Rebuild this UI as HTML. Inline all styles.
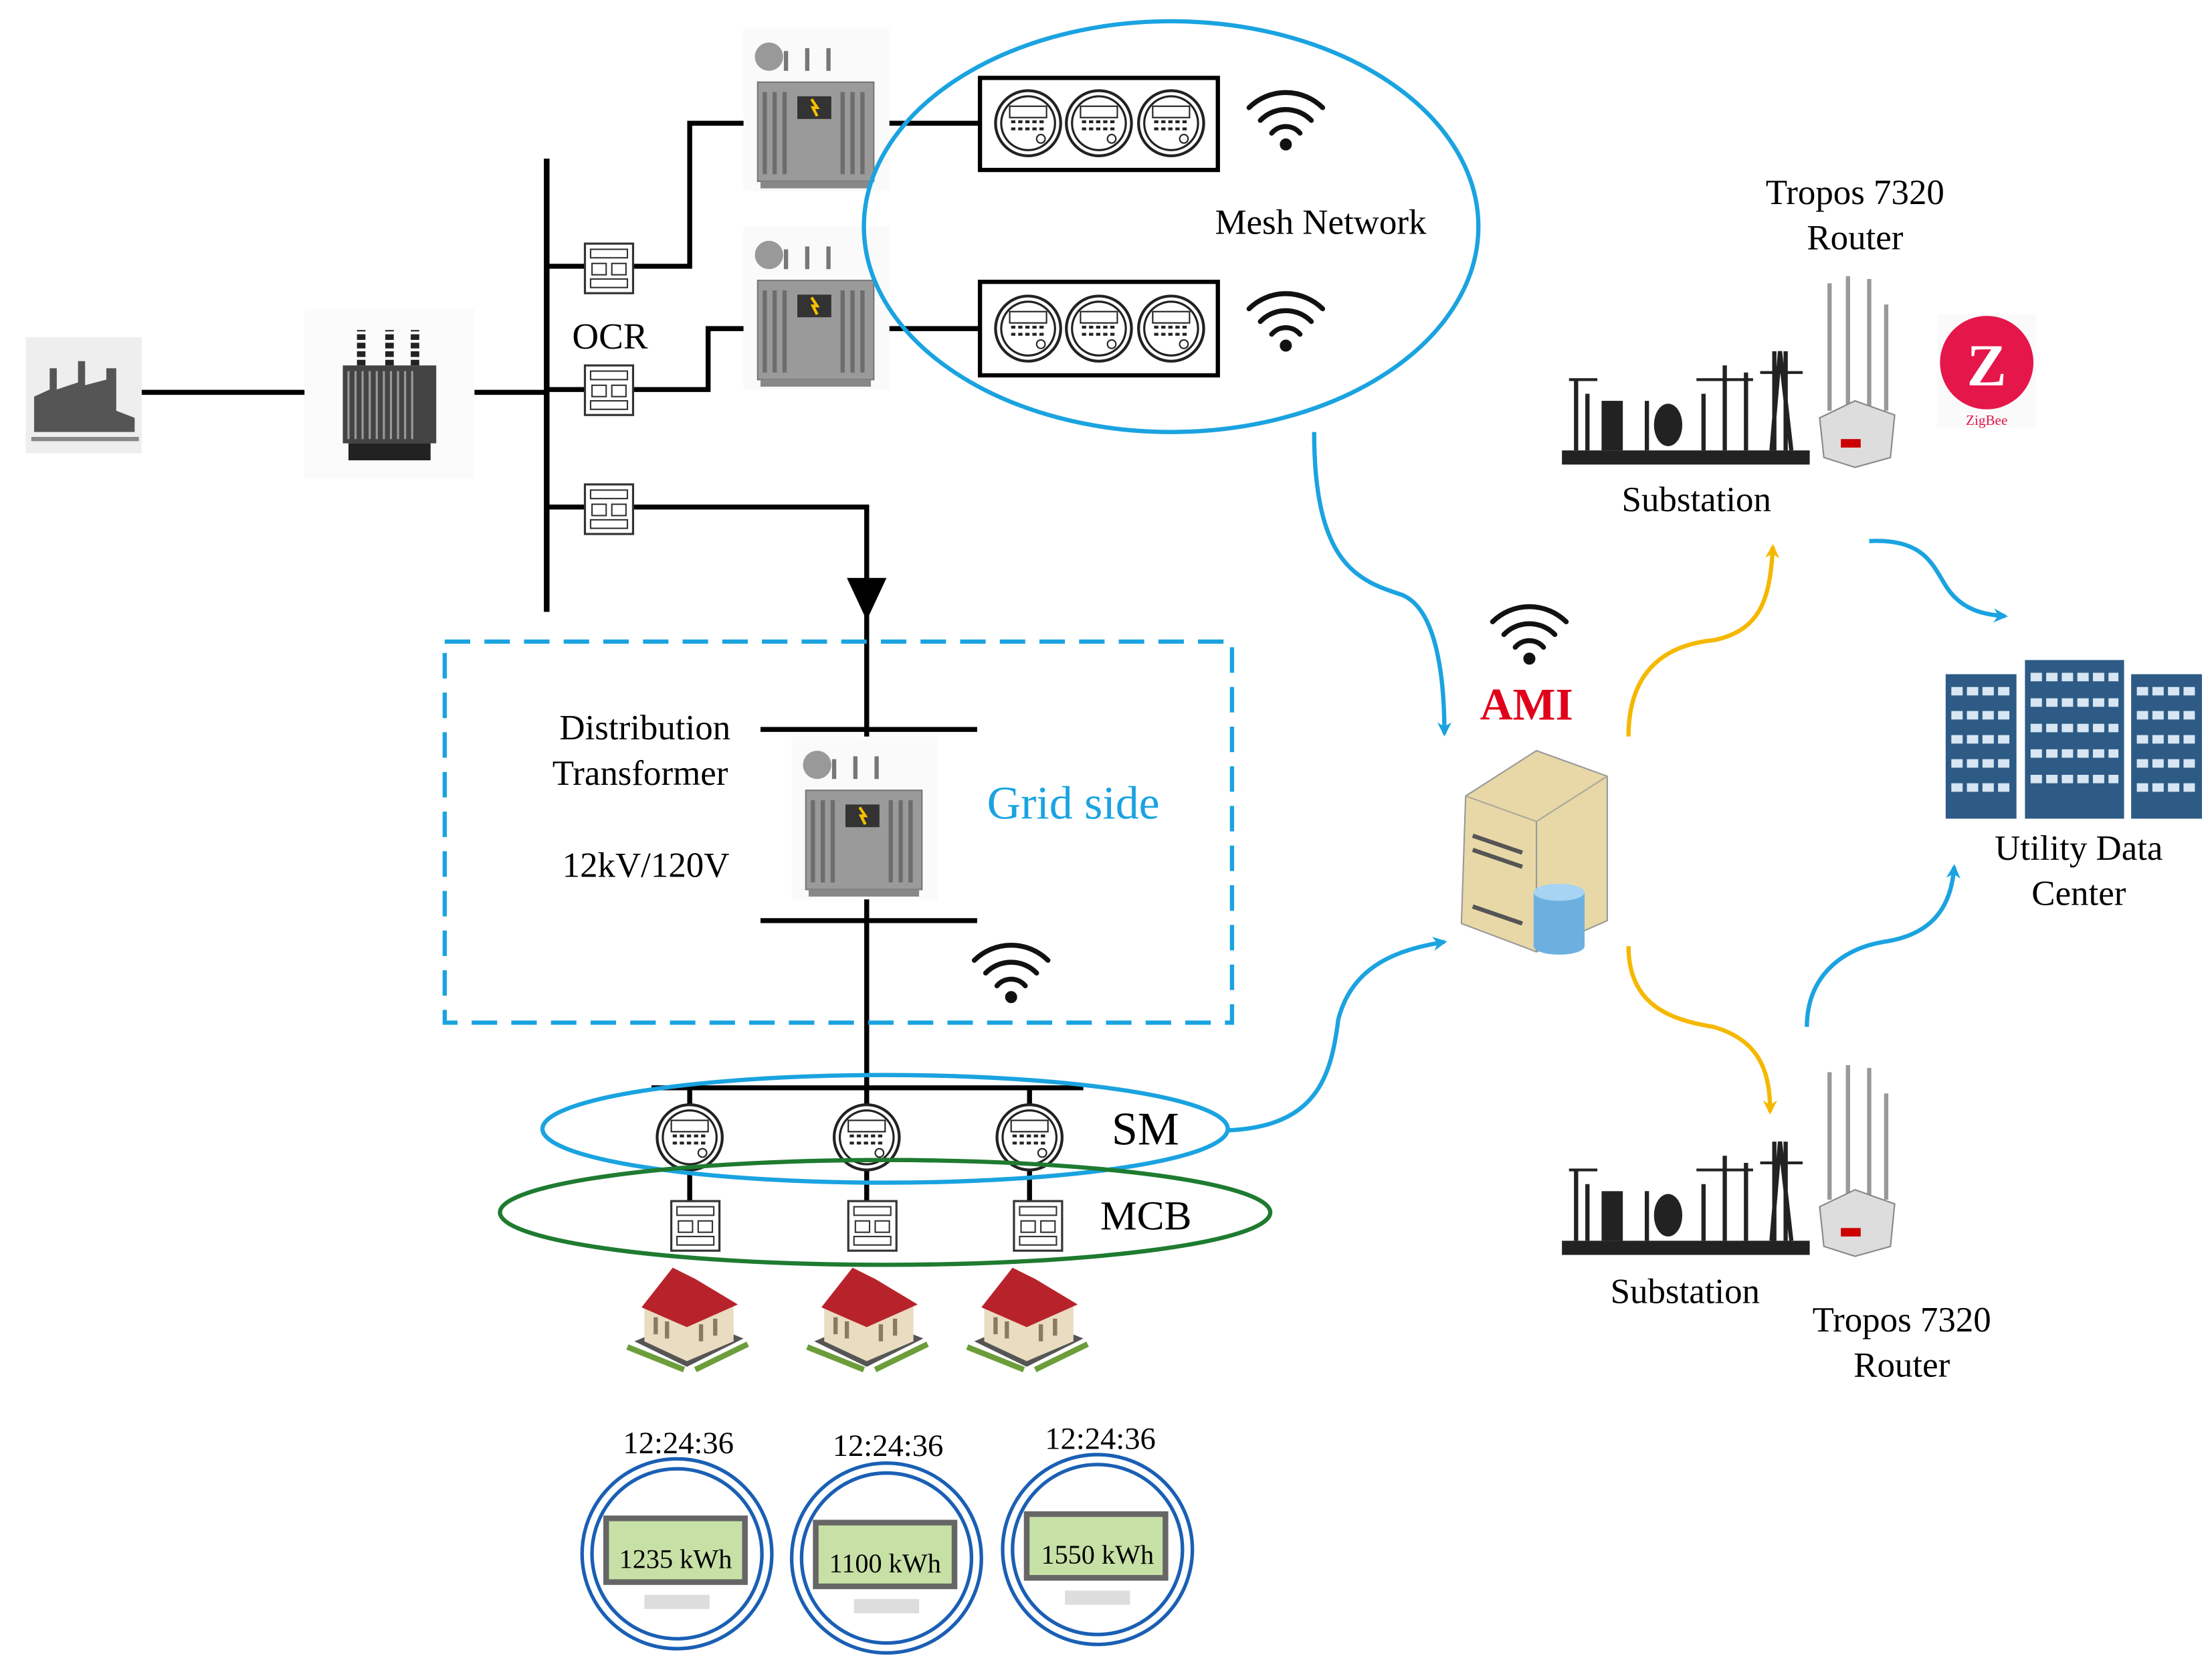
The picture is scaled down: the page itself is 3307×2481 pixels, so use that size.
<!DOCTYPE html>
<html><head><meta charset="utf-8"><style>
html,body{margin:0;padding:0;background:#fff;}
svg{display:block;}
text{font-family:"Liberation Serif",serif;}
</style></head><body>
<svg width="3307" height="2481" viewBox="0 0 1562 1172" xmlns="http://www.w3.org/2000/svg">
<defs>
<marker id="ab" markerWidth="10" markerHeight="10" refX="8" refY="5" orient="auto" markerUnits="userSpaceOnUse"><path d="M0,0 L10,5 L0,10 L3,5 z" fill="#1aa3e0"/></marker>
<marker id="ay" markerWidth="10" markerHeight="10" refX="8" refY="5" orient="auto" markerUnits="userSpaceOnUse"><path d="M0,0 L10,5 L0,10 L3,5 z" fill="#f5b800"/></marker>
<g id="ocr"><rect x="0" y="0" width="34" height="35" fill="#fff" stroke="#333" stroke-width="1.5"/><rect x="4" y="4" width="26" height="6" fill="none" stroke="#333"/><rect x="5" y="14" width="10" height="8" fill="none" stroke="#333"/><rect x="19" y="14" width="10" height="8" fill="none" stroke="#333"/><rect x="4" y="25" width="26" height="6" fill="none" stroke="#333"/></g>
<g id="tr"><rect x="0" y="0" width="103" height="115" fill="#fafafa"/><circle cx="18" cy="20" r="10" fill="#999"/><rect x="10" y="38" width="82" height="70" fill="#9a9a9a" stroke="#777"/><path d="M15 45v58M22 45v58M29 45v58M70 45v58M77 45v58M84 45v58" stroke="#6d6d6d" stroke-width="3"/><rect x="38" y="48" width="24" height="16" fill="#333"/><path d="M48 50l4 6h-3l3 6" stroke="#f5c000" stroke-width="2" fill="none"/><path d="M30 30v-14M45 30v-16M60 30v-16" stroke="#777" stroke-width="3"/><rect x="12" y="108" width="78" height="5" fill="#888"/></g>
<g id="met"><circle r="23" fill="#fff" stroke="#222" stroke-width="2"/><circle r="19" fill="none" stroke="#222" stroke-width="1.5"/><rect x="-13" y="-12" width="26" height="8" fill="none" stroke="#222"/><path d="M-12 -1h24M-12 4h24" stroke="#222" stroke-width="2" stroke-dasharray="3 2"/><circle cx="9" cy="11" r="3" fill="none" stroke="#222"/></g>
<g id="wifi" fill="none" stroke="#111" stroke-width="3.5" stroke-linecap="round"><path d="M-26 -14 A37 37 0 0 1 26 -14"/><path d="M-18 -5 A25 25 0 0 1 18 -5"/><path d="M-10 4 A13 13 0 0 1 10 4"/><circle cx="0" cy="12" r="2.5" fill="#111"/></g>
<g id="house"><path d="M5 62 L42 80 L82 60 L45 45 z" fill="#555"/><path d="M12 38 L42 50 L75 36 L75 62 L42 76 L12 62 z" fill="#e9dcc0"/><path d="M10 38 L32 10 L48 18 L78 36 L42 52 z" fill="#b8232b"/><path d="M20 45v12M28 48v12M52 50v12M62 46v12" stroke="#8a7a60" stroke-width="3"/><path d="M0 66 L40 82 M85 64 L48 82" stroke="#6b9e3a" stroke-width="4"/></g>
<g id="sub"><rect width="175" height="92" fill="#fff"/><rect x="0" y="80" width="175" height="10" fill="#222"/><rect x="28" y="45" width="15" height="35" fill="#222"/><path d="M10 80V30M18 80V40M60 80V45M100 80V40M115 80V20M130 80V25M150 80V10M158 80V10M148 80L154 10L162 80" stroke="#222" stroke-width="3" fill="none"/><ellipse cx="75" cy="62" rx="10" ry="15" fill="#222"/><path d="M95 30h40M140 25h30M5 30h20" stroke="#222" stroke-width="2"/></g>
<g id="rtr"><rect width="60" height="135" fill="#fff"/><path d="M12 95V5M25 95V0M40 95V2M52 95V20" stroke="#999" stroke-width="3"/><path d="M5 100 L30 88 L58 98 L55 128 L30 135 L8 128 z" fill="#ddd" stroke="#888"/><rect x="20" y="115" width="14" height="6" fill="#c00"/></g>
</defs>

<rect x="18" y="238" width="82" height="82" fill="#eee"/>
<path d="M24 305 L24 280 L35 275 L35 260 L40 260 L40 275 L55 270 L55 255 L60 255 L60 272 L75 268 L75 260 L82 260 L82 290 L95 295 L95 305 z" fill="#555"/>
<path d="M22 310 L98 310" stroke="#888" stroke-width="3"/>
<line x1="100" y1="277" x2="215" y2="277" stroke="#000" stroke-width="3.5"/>
<rect x="215" y="218" width="120" height="120" fill="#fbfbfb"/>
<rect x="242" y="258" width="66" height="55" fill="#444"/>
<path d="M246 262v48M251 262v48M256 262v48M261 262v48M266 262v48M271 262v48M276 262v48M281 262v48M286 262v48M291 262v48" stroke="#999" stroke-width="1.5"/>
<path d="M255 258v-25M275 258v-25M293 258v-25" stroke="#222" stroke-width="6" stroke-dasharray="4 2"/>
<rect x="246" y="313" width="58" height="12" fill="#222"/>
<line x1="335" y1="277" x2="386" y2="277" stroke="#000" stroke-width="3.5"/>
<line x1="386" y1="112" x2="386" y2="432" stroke="#000" stroke-width="4"/>
<g stroke="#000" stroke-width="3.5" fill="none">
<path d="M386 188H413M447 188H487V87H527"/>
<path d="M386 275H413M447 275H500V232H527"/>
<path d="M386 358H413M447 358H612V415"/>
<path d="M628 87H692M628 232H692"/>
<path d="M612 432V768M537 515H690M537 650H690"/>
<path d="M460 768H765M487 768V780M612 768V780M727 768V780M487 826V848M612 826V848M727 826V848"/>
</g>
<path d="M598 408 L626 408 L612 438 z" fill="#000"/>
<use href="#ocr" x="413" y="172"/><use href="#ocr" x="413" y="258"/><use href="#ocr" x="413" y="342"/>
<text x="404" y="246" font-size="26">OCR</text>
<use href="#tr" x="525" y="20"/><use href="#tr" x="525" y="160"/>
<rect x="692" y="55" width="168" height="65" fill="#fff" stroke="#000" stroke-width="3"/>
<rect x="692" y="199" width="168" height="66" fill="#fff" stroke="#000" stroke-width="3"/>
<use href="#met" x="726" y="87"/><use href="#met" x="776" y="87"/><use href="#met" x="827" y="87"/>
<use href="#met" x="726" y="232"/><use href="#met" x="776" y="232"/><use href="#met" x="827" y="232"/>
<use href="#wifi" x="908" y="90"/><use href="#wifi" x="908" y="232"/>
<ellipse cx="827" cy="160" rx="217" ry="145" fill="none" stroke="#1aa3e0" stroke-width="3"/>
<text x="858" y="165" font-size="25">Mesh Network</text>
<rect x="314" y="453" width="556" height="269" fill="none" stroke="#1aa3e0" stroke-width="3" stroke-dasharray="18 10"/>
<use href="#tr" x="559" y="520"/>
<text x="395" y="522" font-size="25">Distribution</text>
<text x="390" y="554" font-size="25">Transformer</text>
<text x="397" y="619" font-size="25">12kV/120V</text>
<text x="697" y="578" font-size="33" fill="#1aa3e0">Grid side</text>
<use href="#wifi" x="714" y="692"/>
<use href="#met" x="487" y="803"/><use href="#met" x="612" y="803"/><use href="#met" x="727" y="803"/>
<use href="#ocr" x="474" y="848"/><use href="#ocr" x="599" y="848"/><use href="#ocr" x="716" y="848"/>
<use href="#house" x="443" y="885"/><use href="#house" x="570" y="885"/><use href="#house" x="683" y="885"/>
<ellipse cx="625" cy="797" rx="242" ry="38" fill="none" stroke="#1aa3e0" stroke-width="3"/>
<ellipse cx="625" cy="856" rx="272" ry="37" fill="none" stroke="#1e7b30" stroke-width="3"/>
<text x="785" y="808" font-size="33">SM</text>
<text x="777" y="868" font-size="29">MCB</text>
<g font-size="22">
<text x="479" y="1026" text-anchor="middle">12:24:36</text>
<text x="627" y="1028" text-anchor="middle">12:24:36</text>
<text x="777" y="1023" text-anchor="middle">12:24:36</text>
</g>
<g id="bm">
<circle cx="478" cy="1097" r="67" fill="#fff" stroke="#1a5fb4" stroke-width="2.5"/><circle cx="478" cy="1097" r="60" fill="none" stroke="#1a5fb4" stroke-width="2.5"/>
<rect x="428" y="1072" width="98" height="45" fill="#c7e0a6" stroke="#666" stroke-width="4"/>
<rect x="455" y="1126" width="46" height="10" fill="#ddd"/>
</g>
<use href="#bm" x="148" y="3"/><use href="#bm" x="297" y="-3"/>
<g font-size="19">
<text x="477" y="1107" text-anchor="middle">1235 kWh</text>
<text x="625" y="1110" text-anchor="middle">1100 kWh</text>
<text x="775" y="1104" text-anchor="middle">1550 kWh</text>
</g>
<use href="#wifi" x="1080" y="453"/>
<text x="1078" y="508" font-size="32" fill="#e0001a" font-weight="bold" text-anchor="middle">AMI</text>
<path d="M1035 562 L1085 530 L1135 548 L1135 650 L1085 672 L1032 652 z" fill="#e8d8a8" stroke="#999"/>
<path d="M1035 562 L1085 580 L1135 548" fill="none" stroke="#aa9"/>
<path d="M1085 580 V672" stroke="#999"/>
<path d="M1040 590 l35 12 M1040 600 l35 12 M1040 640 l35 12" stroke="#555" stroke-width="3"/>
<rect x="1083" y="630" width="36" height="38" fill="#6cb0e0"/><ellipse cx="1101" cy="630" rx="18" ry="6" fill="#a7d4f2"/><ellipse cx="1101" cy="668" rx="18" ry="6" fill="#6cb0e0"/>
<use href="#sub" x="1103" y="238"/><use href="#rtr" x="1280" y="195"/>
<use href="#sub" x="1103" y="796"/><use href="#rtr" x="1280" y="752"/>
<rect x="1368" y="222" width="70" height="80" fill="#fafafa"/>
<circle cx="1403" cy="256" r="33" fill="#e5164a"/>
<text x="1403" y="272" font-size="42" fill="#fff" font-weight="bold" text-anchor="middle" font-family="Liberation Sans">Z</text>
<text x="1403" y="300" font-size="10" fill="#e5164a" text-anchor="middle" font-family="Liberation Mono">ZigBee</text>
<g font-size="25">
<text x="1310" y="144" text-anchor="middle">Tropos 7320</text>
<text x="1310" y="176" text-anchor="middle">Router</text>
<text x="1198" y="361" text-anchor="middle">Substation</text>
<text x="1190" y="920" text-anchor="middle">Substation</text>
<text x="1343" y="940" text-anchor="middle">Tropos 7320</text>
<text x="1343" y="972" text-anchor="middle">Router</text>
<text x="1468" y="607" text-anchor="middle">Utility Data</text>
<text x="1468" y="639" text-anchor="middle">Center</text>
</g>
<rect x="1370" y="465" width="188" height="115" fill="#fff"/>
<rect x="1374" y="476" width="50" height="102" fill="#2d5b85"/><rect x="1430" y="466" width="70" height="112" fill="#2d5b85"/><rect x="1505" y="476" width="50" height="102" fill="#2d5b85"/>
<g stroke="#d7e6f2" stroke-width="6" stroke-dasharray="8 3">
<path d="M1378 488h42M1378 505h42M1378 522h42M1378 539h42M1378 556h42M1434 478h62M1434 496h62M1434 514h62M1434 532h62M1434 550h62M1509 488h42M1509 505h42M1509 522h42M1509 539h42M1509 556h42"/>
</g>
<g fill="none" stroke-width="3">
<path d="M928 305 C928 400 960 410 990 420 C1015 430 1020 480 1020 518" stroke="#1aa3e0" marker-end="url(#ab)"/>
<path d="M868 798 C930 795 940 760 945 720 C955 680 990 670 1020 665" stroke="#1aa3e0" marker-end="url(#ab)"/>
<path d="M1150 520 C1150 470 1180 455 1210 452 C1245 445 1250 420 1252 386" stroke="#f5b800" marker-end="url(#ay)"/>
<path d="M1150 668 C1150 710 1180 720 1210 725 C1245 735 1250 760 1250 785" stroke="#f5b800" marker-end="url(#ay)"/>
<path d="M1320 382 C1360 380 1365 400 1375 415 C1385 430 1400 434 1416 435" stroke="#1aa3e0" marker-end="url(#ab)"/>
<path d="M1276 725 C1276 690 1300 670 1330 665 C1365 660 1378 640 1380 612" stroke="#1aa3e0" marker-end="url(#ab)"/>
</g>
</svg>
</body></html>
